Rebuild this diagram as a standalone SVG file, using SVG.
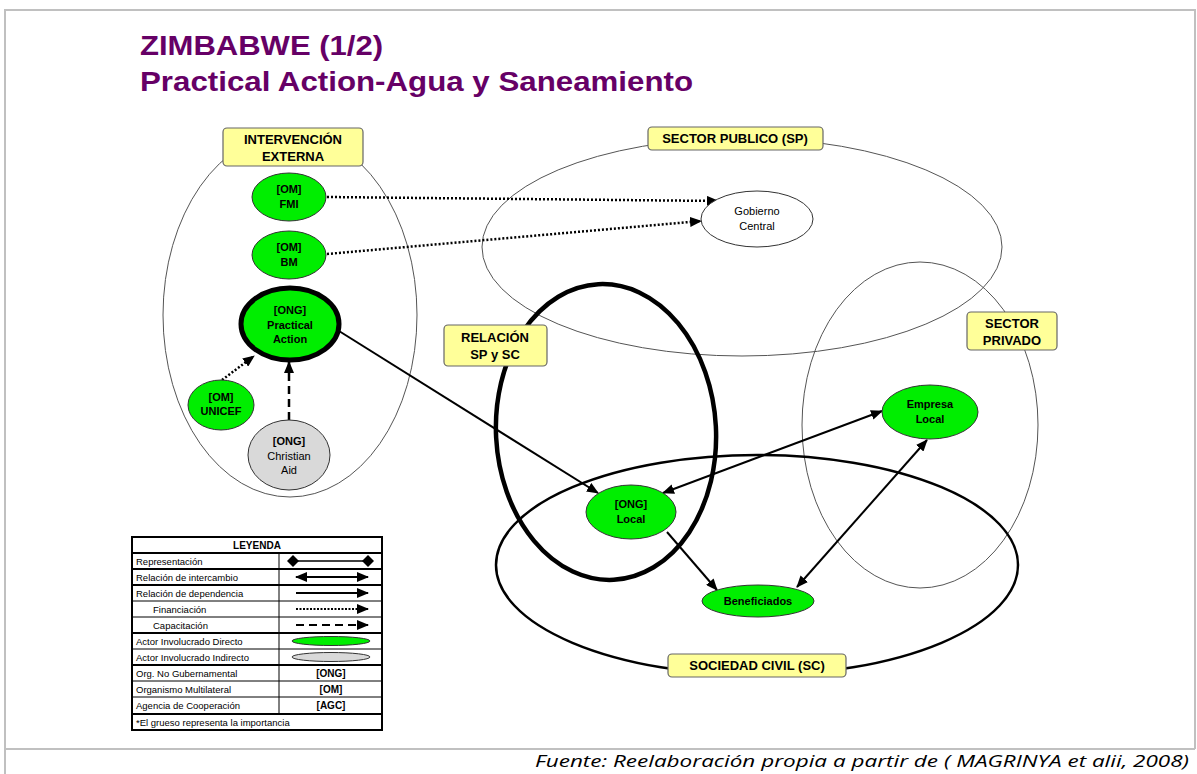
<svg xmlns="http://www.w3.org/2000/svg" width="1197" height="774" viewBox="0 0 1197 774">
<style>
.frame{fill:none;stroke:#c0c0c0;stroke-width:2}
.title{font-family:"Liberation Sans",Arial,sans-serif;font-weight:bold;font-size:28px;fill:#660066}
.lbl{fill:#ffff99;stroke:#666;stroke-width:1.2}
.lt{font-family:"Liberation Sans",Arial,sans-serif;font-weight:bold;font-size:13px;fill:#000;text-anchor:middle}
.grp{fill:none;stroke:#555;stroke-width:1}
.dir{fill:#00ee00;stroke:#333;stroke-width:1}
.ind{fill:#d9d9d9;stroke:#333;stroke-width:1}
.nt{font-family:"Liberation Sans",Arial,sans-serif;font-weight:bold;font-size:11px;fill:#000;text-anchor:middle}
.nn{font-family:"Liberation Sans",Arial,sans-serif;font-size:11px;fill:#000;text-anchor:middle}
.c{fill:none;stroke:#000;stroke-width:2}
.dot{stroke-dasharray:2 2;stroke-width:2.5}
.dash{stroke-dasharray:8 5;stroke-width:2.5}
.leg{font-family:"Liberation Sans",Arial,sans-serif;font-size:9.5px;fill:#000}
.legb{font-family:"Liberation Sans",Arial,sans-serif;font-size:10px;font-weight:bold;fill:#000;text-anchor:middle}
.tl{stroke:#000;stroke-width:2}
.tn{stroke:#000;stroke-width:1}
</style>
<defs>
<marker id="ah" markerUnits="userSpaceOnUse" markerWidth="12" markerHeight="10" refX="11" refY="5" orient="auto-start-reverse" viewBox="0 0 12 10">
<path d="M0,0 L12,5 L0,10 z" fill="#000"/>
</marker>
<marker id="dm" markerUnits="userSpaceOnUse" markerWidth="12" markerHeight="12" refX="6" refY="6" orient="auto" viewBox="0 0 12 12">
<path d="M6,0 L12,6 L6,12 L0,6 z" fill="#000"/>
</marker>
</defs>
<rect width="1197" height="774" fill="#fff"/>
<path class="frame" d="M5,774 V10 H1195 V749 M5,749 H1195"/>
<text class="title" x="140" y="55" textLength="243" lengthAdjust="spacingAndGlyphs">ZIMBABWE (1/2)</text>
<text class="title" x="140" y="91" textLength="553" lengthAdjust="spacingAndGlyphs">Practical Action-Agua y Saneamiento</text>

<g id="sector-publico">
<ellipse class="grp" cx="742" cy="247" rx="260" ry="109"/>
<rect class="lbl" x="648" y="127" width="175" height="23" rx="4"/>
<text class="lt" x="735" y="143">SECTOR PUBLICO (SP)</text>
</g>
<g id="sector-privado">
<ellipse class="grp" cx="920" cy="425" rx="118" ry="163"/>
<rect class="lbl" x="967" y="312" width="90" height="38" rx="4"/>
<text class="lt" x="1012" y="328">SECTOR</text>
<text class="lt" x="1012" y="345">PRIVADO</text>
</g>
<g id="sociedad-civil">
<ellipse cx="757" cy="565" rx="261" ry="110" fill="none" stroke="#000" stroke-width="2.5"/>
<rect class="lbl" x="668" y="654" width="178" height="23" rx="4"/>
<text class="lt" x="757" y="670">SOCIEDAD CIVIL (SC)</text>
</g>
<g id="relacion-sp-sc">
<ellipse cx="606" cy="432" rx="110" ry="148" fill="none" stroke="#000" stroke-width="4.5" transform="rotate(-3 606 432)"/>
<rect class="lbl" x="444" y="325" width="103" height="41" rx="4"/>
<text class="lt" x="495" y="342">RELACIÓN</text>
<text class="lt" x="495" y="359">SP y SC</text>
</g>
<g id="intervencion-externa">
<ellipse class="grp" cx="290" cy="315" rx="127" ry="182"/>
<rect class="lbl" x="223" y="128" width="140" height="38" rx="4"/>
<text class="lt" x="293" y="144">INTERVENCIÓN</text>
<text class="lt" x="293" y="161">EXTERNA</text>
</g>

<g id="connectors">
<line class="c dot" x1="327" y1="197" x2="718" y2="201" marker-end="url(#ah)"/>
<line class="c dot" x1="327" y1="254" x2="701" y2="221" marker-end="url(#ah)"/>
<line class="c dot" x1="222" y1="380" x2="254" y2="356" marker-end="url(#ah)"/>
<line class="c dash" x1="289" y1="420" x2="289" y2="362" marker-end="url(#ah)"/>
<line class="c" x1="339" y1="331" x2="598" y2="493" marker-end="url(#ah)"/>
<line class="c" x1="663" y1="493" x2="882" y2="411" marker-start="url(#ah)" marker-end="url(#ah)"/>
<line class="c" x1="667" y1="532" x2="717" y2="590" marker-end="url(#ah)"/>
<line class="c" x1="797" y1="587" x2="927" y2="440" marker-start="url(#ah)" marker-end="url(#ah)"/>
</g>

<g id="fmi">
<ellipse class="dir" cx="289" cy="197" rx="37" ry="24"/>
<text class="nt" x="289" y="193">[OM]</text>
<text class="nt" x="289" y="208">FMI</text>
</g>
<g id="bm">
<ellipse class="dir" cx="289" cy="255" rx="37" ry="24"/>
<text class="nt" x="289" y="251">[OM]</text>
<text class="nt" x="289" y="266">BM</text>
</g>
<g id="practical-action">
<ellipse class="dir" cx="290" cy="324" rx="49" ry="36" style="stroke:#000;stroke-width:5"/>
<text class="nt" x="290" y="314">[ONG]</text>
<text class="nt" x="290" y="329">Practical</text>
<text class="nt" x="290" y="343">Action</text>
</g>
<g id="unicef">
<ellipse class="dir" cx="221" cy="405" rx="33" ry="25"/>
<text class="nt" x="221" y="401">[OM]</text>
<text class="nt" x="221" y="415">UNICEF</text>
</g>
<g id="christian-aid">
<ellipse class="ind" cx="289" cy="455" rx="41" ry="35"/>
<text class="nt" x="289" y="445">[ONG]</text>
<text class="nn" x="289" y="460">Christian</text>
<text class="nn" x="289" y="474">Aid</text>
</g>
<g id="gobierno-central">
<ellipse cx="757" cy="219" rx="56" ry="28" fill="#fff" stroke="#333" stroke-width="1"/>
<text class="nn" x="757" y="215" font-size="10">Gobierno</text>
<text class="nn" x="757" y="230" font-size="10">Central</text>
</g>
<g id="ong-local">
<ellipse class="dir" cx="631" cy="512" rx="45" ry="27"/>
<text class="nt" x="631" y="508">[ONG]</text>
<text class="nt" x="631" y="523">Local</text>
</g>
<g id="empresa-local">
<ellipse class="dir" cx="930" cy="412" rx="48" ry="27"/>
<text class="nt" x="930" y="408">Empresa</text>
<text class="nt" x="930" y="423">Local</text>
</g>
<g id="beneficiados">
<ellipse class="dir" cx="758" cy="601" rx="56" ry="16"/>
<text class="nt" x="758" y="605">Beneficiados</text>
</g>

<g id="leyenda">
<rect x="132" y="537" width="250" height="193" fill="#fff" stroke="#000" stroke-width="2"/>
<line class="tn" x1="279" y1="553" x2="279" y2="714"/>
<line class="tl" x1="132" y1="553" x2="382" y2="553"/>
<line class="tl" x1="132" y1="569" x2="382" y2="569"/>
<line class="tl" x1="132" y1="585" x2="382" y2="585"/>
<line class="tn" x1="132" y1="601" x2="382" y2="601"/>
<line class="tn" x1="132" y1="617" x2="382" y2="617"/>
<line class="tl" x1="132" y1="633" x2="382" y2="633"/>
<line class="tn" x1="132" y1="649" x2="382" y2="649"/>
<line class="tl" x1="132" y1="665" x2="382" y2="665"/>
<line class="tn" x1="132" y1="681" x2="382" y2="681"/>
<line class="tn" x1="132" y1="697" x2="382" y2="697"/>
<line class="tl" x1="132" y1="714" x2="382" y2="714"/>
<text class="legb" x="257" y="549">LEYENDA</text>
<text class="leg" x="136" y="565">Representación</text>
<text class="leg" x="136" y="581">Relación de intercambio</text>
<text class="leg" x="136" y="597">Relación de dependencia</text>
<text class="leg" x="153" y="613">Financiación</text>
<text class="leg" x="153" y="629">Capacitación</text>
<text class="leg" x="136" y="645">Actor Involucrado Directo</text>
<text class="leg" x="136" y="661">Actor Involucrado Indirecto</text>
<text class="leg" x="136" y="677">Org. No Gubernamental</text>
<text class="leg" x="136" y="693">Organismo Multilateral</text>
<text class="leg" x="136" y="709">Agencia de Cooperación</text>
<text class="leg" x="136" y="726">*El grueso representa la importancia</text>
<line x1="293" y1="561" x2="368" y2="561" stroke="#000" stroke-width="1.5" marker-start="url(#dm)" marker-end="url(#dm)"/>
<line x1="296" y1="577" x2="368" y2="577" stroke="#000" stroke-width="2" marker-start="url(#ah)" marker-end="url(#ah)"/>
<line x1="296" y1="593" x2="368" y2="593" stroke="#000" stroke-width="2" marker-end="url(#ah)"/>
<line x1="296" y1="609" x2="368" y2="609" stroke="#000" stroke-width="2" stroke-dasharray="2 1.5" marker-end="url(#ah)"/>
<line x1="296" y1="625" x2="368" y2="625" stroke="#000" stroke-width="2" stroke-dasharray="8 5" marker-end="url(#ah)"/>
<ellipse class="dir" cx="331" cy="641" rx="39" ry="4.5"/>
<ellipse class="ind" cx="331" cy="657" rx="39" ry="4.5"/>
<text class="legb" x="331" y="677">[ONG]</text>
<text class="legb" x="331" y="693">[OM]</text>
<text class="legb" x="331" y="709">[AGC]</text>
</g>
<text x="1189" y="767" text-anchor="end" font-family="'Open Sans','Liberation Sans',sans-serif" font-style="italic" font-size="17" textLength="654" lengthAdjust="spacingAndGlyphs" fill="#000">Fuente: Reelaboración propia a partir de ( MAGRINYA et alii, 2008)</text>
</svg>
